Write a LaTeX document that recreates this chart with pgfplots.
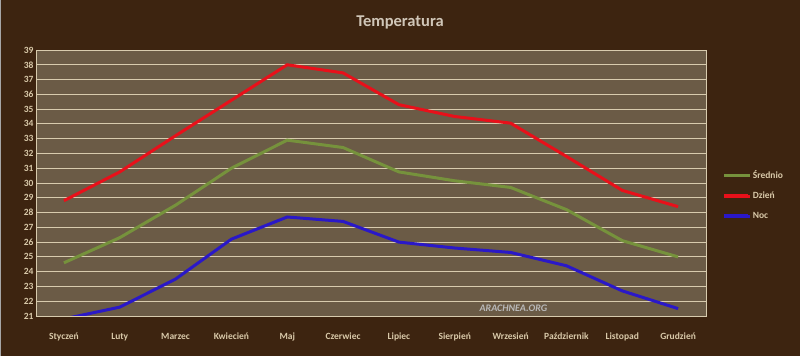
\documentclass[border=0pt]{standalone}
\usepackage{pgfplots}
\pgfplotsset{compat=1.18}
\usepackage{fontspec}
\setmainfont{Carlito}
\definecolor{bg}{HTML}{3D2410}
\definecolor{plotbg}{HTML}{6B5B46}
\definecolor{gridc}{HTML}{D8CBAE}
\definecolor{txt}{HTML}{D9C9A9}
\definecolor{ttl}{HTML}{D0C6B8}
\definecolor{cgreen}{HTML}{76923C}
\definecolor{cred}{HTML}{E8101A}
\definecolor{cblue}{HTML}{2A18C8}
\begin{document}
\begin{tikzpicture}
\path[fill=bg,draw=gray!70,line width=1bp] (0,0) rectangle (800bp,356bp);
\node[text=ttl,font=\bfseries\fontsize{16.5bp}{19bp}\selectfont] at (400bp,334bp) {Temperatura};
\begin{axis}[
  at={(36bp,40bp)}, anchor=south west,
  scale only axis, width=670bp, height=266bp,
  xmin=-0.5, xmax=11.5, ymin=21, ymax=39,
  xtick={0,...,11},
  xticklabels={Styczeń,Luty,Marzec,Kwiecień,Maj,Czerwiec,Lipiec,Sierpień,Wrzesień,Październik,Listopad,Grudzień},
  ytick={21,...,39},
  major tick length=0pt,
  ymajorgrids,
  grid style={gridc, line width=0.9bp},
  axis background/.style={fill=plotbg},
  axis line style={gridc, line width=0.9bp},
  tick label style={text=txt, font=\bfseries\fontsize{9.5bp}{10bp}\selectfont},
  /pgf/number format/assume math mode=true,
  xticklabel style={yshift=-12bp, text height=8bp, text depth=2.5bp},
  yticklabel style={xshift=1bp},
  clip=true,
  legend style={at={(1.02,0.562)}, anchor=north west, draw=none, fill=none,
    text=txt, font=\bfseries\fontsize{9.5bp}{10bp}\selectfont, row sep=8bp,
    nodes={inner xsep=1bp}},
  legend cell align=left,
  legend image code/.code={\draw[line width=3.5bp,#1] (0bp,0bp) -- (24bp,0bp); \path (0bp,0bp) -- (26bp,0bp);},
]
\addplot[cgreen, line width=3bp] coordinates {(0,24.6)(1,26.3)(2,28.5)(3,31.0)(4,32.9)(5,32.4)(6,30.75)(7,30.15)(8,29.7)(9,28.2)(10,26.1)(11,25.0)};
\addlegendentry{Średnio}
\addplot[cred, line width=3bp] coordinates {(0,28.8)(1,30.75)(2,33.2)(3,35.6)(4,38.0)(5,37.45)(6,35.3)(7,34.5)(8,34.05)(9,31.8)(10,29.5)(11,28.4)};
\addlegendentry{Dzień}
\addplot[cblue, line width=3bp] coordinates {(0,20.8)(1,21.6)(2,23.5)(3,26.2)(4,27.7)(5,27.4)(6,26.0)(7,25.6)(8,25.3)(9,24.4)(10,22.7)(11,21.5)};
\addlegendentry{Noc}
\node[text=gray!55, font=\itshape\bfseries\fontsize{10bp}{11bp}\selectfont, anchor=center] at (axis cs:8.05,21.55) {ARACHNEA.ORG};
\end{axis}
\pgfresetboundingbox
\path (0,0) rectangle (800bp,356bp);
\end{tikzpicture}
\end{document}
